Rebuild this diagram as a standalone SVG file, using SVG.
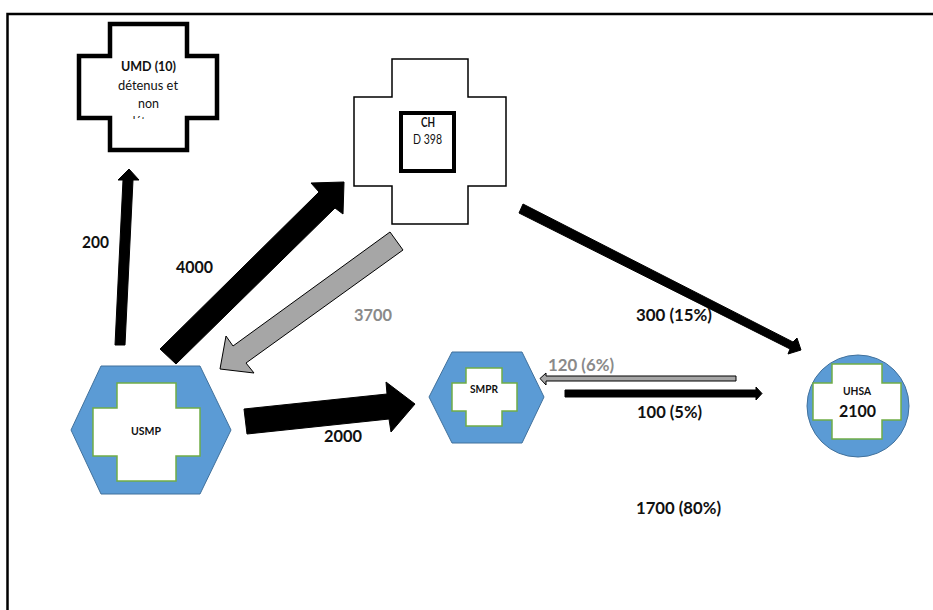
<svg xmlns="http://www.w3.org/2000/svg" width="933" height="610" viewBox="0 0 933 610">
<style>
text{font-family:Lato,"Liberation Sans",sans-serif;fill:#111;text-anchor:start}
.b{font-weight:700}
.l{font-size:17px;font-weight:700}
.g{fill:#8a8a8a}
.s{font-size:12.500px}
.t{font-size:10.500px;font-weight:700}
.blue{fill:#5b9bd5;stroke:#41719c;stroke-width:1}
.green{fill:#fff;stroke:#70ad47;stroke-width:1.500}
.ar{fill:#000;stroke:#000;stroke-width:1}
.gr{fill:#a6a6a6;stroke:#000;stroke-width:1}
</style>
<defs><clipPath id="umdclip"><rect x="110" y="110" width="77" height="9"/></clipPath></defs>
<rect width="933" height="610" fill="#fff"/>
<path d="M7.500 610V14H933" fill="none" stroke="#000" stroke-width="2.500"/>
<g id="umd">
<path d="M110 24H187V56H217V118H187V150H110V118H79V56H110Z" fill="#fff" stroke="#000" stroke-width="4.500"/>
<text class="s b" x="121" y="71" textLength="55" lengthAdjust="spacingAndGlyphs">UMD (10)</text>
<text class="s" x="118" y="90" textLength="60" lengthAdjust="spacingAndGlyphs">détenus et</text>
<text class="s" x="138" y="108" textLength="21" lengthAdjust="spacingAndGlyphs">non</text>
<text class="s" x="129" y="126" clip-path="url(#umdclip)" textLength="40" lengthAdjust="spacingAndGlyphs">détenus</text>
</g>
<g id="ch">
<path d="M392 59H468V97H506V186H468V224H392V186H354V97H392Z" fill="#fff" stroke="#000" stroke-width="1.500"/>
<rect x="401" y="113" width="53" height="58" fill="#fff" stroke="#000" stroke-width="4"/>
<text class="s b" x="421" y="127" textLength="14" lengthAdjust="spacingAndGlyphs">CH</text>
<text class="s" x="413" y="144" textLength="29" lengthAdjust="spacingAndGlyphs">D 398</text>
</g>
<g id="usmp">
<path class="blue" d="M101 366H200L231 430L200 494H101L71 430Z"/>
<path class="green" d="M117 383H176V408H200V456H176V481H117V456H93V408H117Z"/>
<text class="t" x="131" y="435" textLength="30" lengthAdjust="spacingAndGlyphs">USMP</text>
</g>
<g id="smpr">
<path class="blue" d="M452 352H522L544 397L522 443H452L429 397Z"/>
<path class="green" d="M466 368H502V383H517V411H502V426H466V411H452V383H466Z"/>
<text class="t" x="470" y="393" textLength="28" lengthAdjust="spacingAndGlyphs">SMPR</text>
</g>
<g id="uhsa">
<circle class="blue" cx="858" cy="406" r="51"/>
<path class="green" d="M832 364H882V383H901V420H882V439H832V420H813V383H832Z"/>
<text class="t" x="843" y="395" textLength="28" lengthAdjust="spacingAndGlyphs">UHSA</text>
<text class="l" x="839" y="417" textLength="37" lengthAdjust="spacingAndGlyphs">2100</text>
</g>
<g id="connectors">
<polygon class="ar" points="115,345 125,345 133,180 139,180 129,169 118,180 123,180"/>
<polygon class="ar" points="160,349 176,364 335,208 343,214 344,182 311,183 319,192"/>
<polygon class="gr" points="390,232 403,250 246,363 254,373 220,369 226,336 233,346"/>
<polygon class="ar" points="244,409 247,434 389,419 391,432 415,404 386,382 387,394"/>
<polygon class="ar" points="523,204 519,213 790,349 788,354 801,350 797,338 793,342"/>
<polygon class="gr" points="736,376 736,381 546,381 546,385 540,378.500 546,373 546,376"/>
<polygon class="ar" points="565,390 565,397 756,397 756,400 762,393.500 756,387 756,390"/>
</g>
<g id="labels">
<text class="l" x="82" y="248" textLength="27" lengthAdjust="spacingAndGlyphs">200</text>
<text class="l" x="176" y="273" textLength="37" lengthAdjust="spacingAndGlyphs">4000</text>
<text class="l g" x="354" y="321" textLength="38" lengthAdjust="spacingAndGlyphs">3700</text>
<text class="l" x="324" y="442" textLength="38" lengthAdjust="spacingAndGlyphs">2000</text>
<text class="l" x="636" y="321" textLength="76" lengthAdjust="spacingAndGlyphs">300 (15%)</text>
<text class="l g" x="548" y="371" textLength="66" lengthAdjust="spacingAndGlyphs">120 (6%)</text>
<text class="l" x="637" y="418" textLength="65" lengthAdjust="spacingAndGlyphs">100 (5%)</text>
<text class="l" x="636" y="514" textLength="85" lengthAdjust="spacingAndGlyphs">1700 (80%)</text>
</g>
</svg>
